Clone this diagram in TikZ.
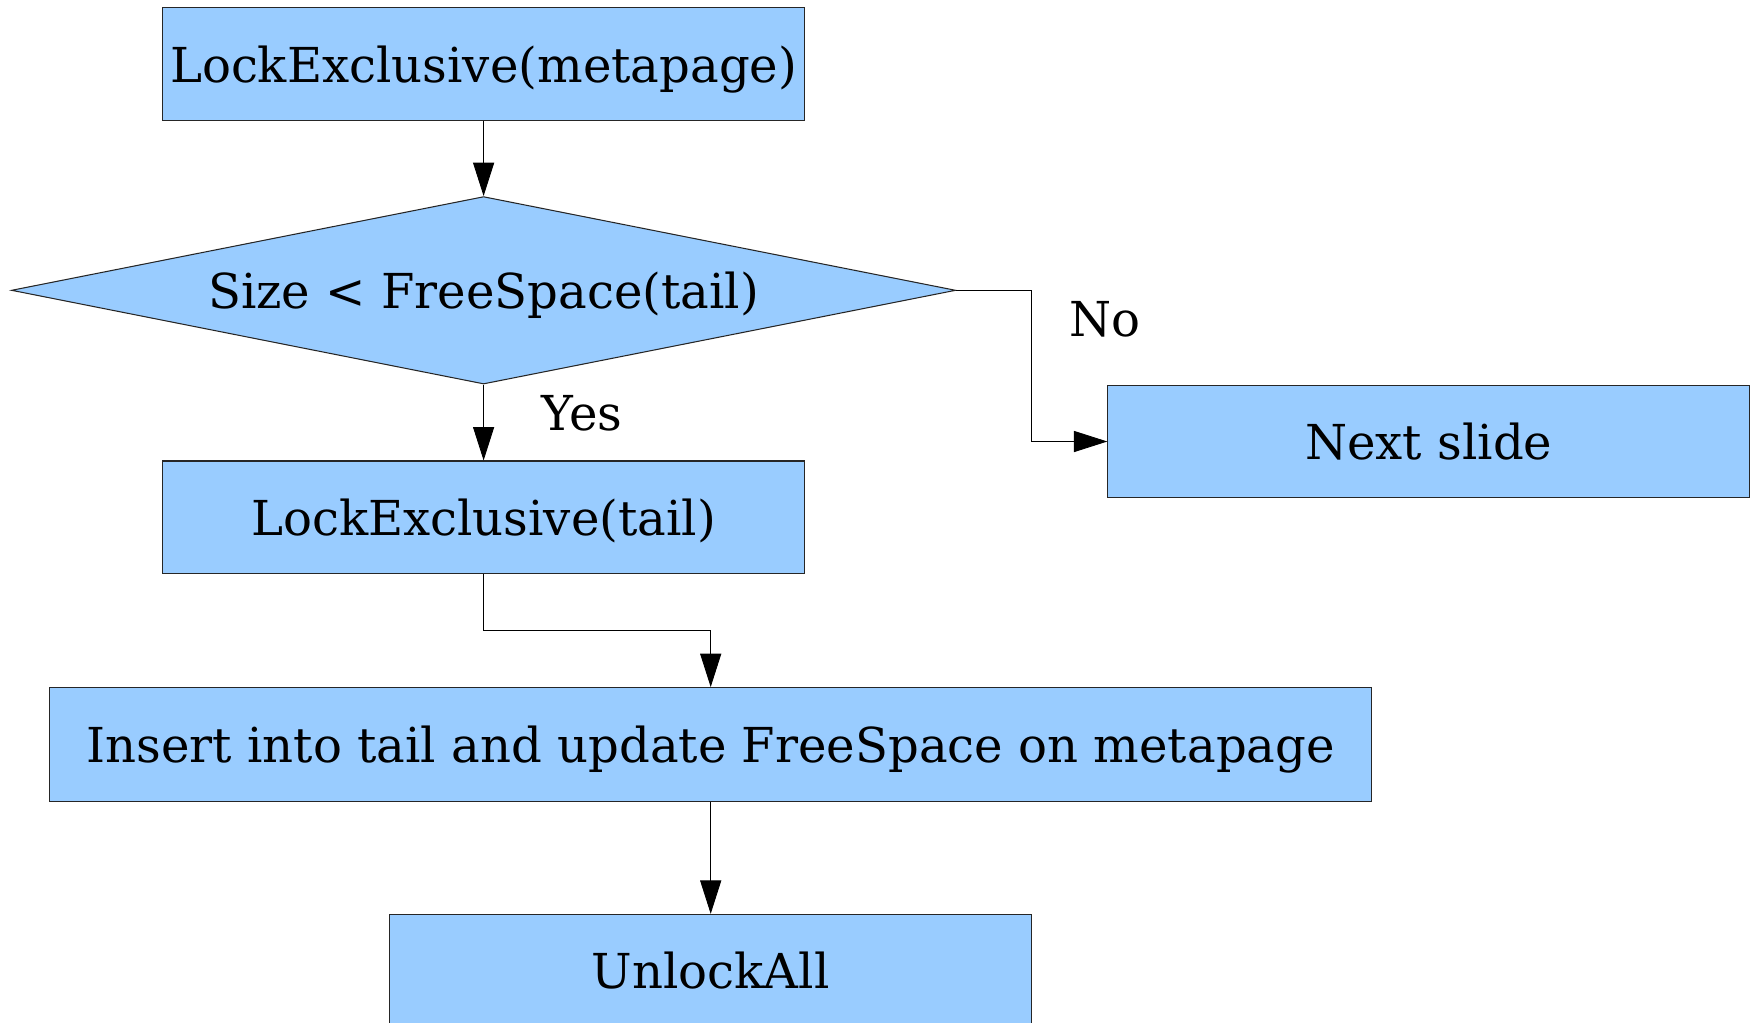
\documentclass[tikz,border=0pt]{standalone}
\usepackage{fontspec}
\setmainfont{DejaVu Serif}
\usetikzlibrary{shapes.geometric,arrows.meta,calc}
\definecolor{boxblue}{HTML}{99CCFF}
\tikzset{
  stepbox/.style={draw=black!85, line width=0.6pt, fill=boxblue, inner sep=0pt, text depth=0pt,
    minimum width=12.84cm, minimum height=2.25cm, font=\fontsize{27.4}{32}\selectfont},
  decision/.style={diamond, aspect=5.05, draw=black!85, line width=0.6pt, fill=boxblue, inner sep=0pt, text depth=0pt,
    minimum width=18.89cm, minimum height=3.75cm, font=\fontsize{27.4}{32}\selectfont},
  arr/.style={line width=0.5pt, -{Triangle[length=19pt,width=12pt]}},
  lbl/.style={font=\fontsize{27.4}{32}\selectfont, inner sep=0pt}
}
\begin{document}
\begin{tikzpicture}[x=0.02cm,y=-0.02cm]
\useasboundingbox (0,0) rectangle (1757,1022);
\node[stepbox] (lm) at (483.6,64) {LockExclusive(metapage)};
\node[decision] (d) at (483.6,290.3) {Size < FreeSpace(tail)};
\node[stepbox] (lt) at (483.6,517.2) {LockExclusive(tail)};
\node[stepbox] (next) at (1428.8,441.5) {Next slide};
\node[stepbox, minimum width=26.45cm, minimum height=2.27cm] (ins) at (710.7,744.3) {Insert into tail and update FreeSpace on metapage};
\node[stepbox] (ul) at (710.7,970.6) {UnlockAll};
\node[lbl] (yes) at (582,413) {Yes};
\node[lbl] (no) at (1105,319) {No};
\draw[arr] (lm.south) -- (d.north);
\draw[arr] (d.south) -- (lt.north);
\draw[arr] (d.east) -| ($(d.east)!.5!(next.west)$) |- (next.west);
\draw[arr] (lt.south) |- ($(lt.south)!.5!(ins.north)$) -| (ins.north);
\draw[arr] (ins.south) -- (ul.north);
\end{tikzpicture}
\end{document}
